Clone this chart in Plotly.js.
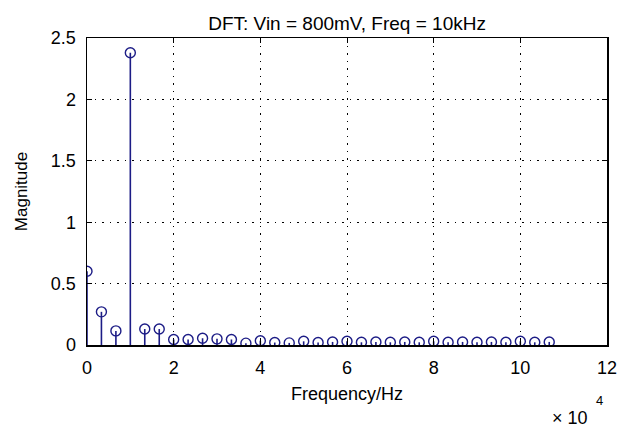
<!DOCTYPE html>
<html>
<head>
<meta charset="utf-8">
<script src="https://cdn.plot.ly/plotly-3.0.1.min.js"></script>
<style>html,body{margin:0;padding:0;background:#fff;}#chart{width:631px;height:433px;}</style>
</head>
<body>
<div id="chart"></div>
<script>
// Frequency bins in units of 10^4 Hz
const freq = [0, 0.333, 0.667, 1.0, 1.333, 1.667, 2.0, 2.333, 2.667, 3.0, 3.333,
  3.667, 4.0, 4.333, 4.667, 5.0, 5.333, 5.667, 6.0, 6.333, 6.667, 7.0, 7.333,
  7.667, 8.0, 8.333, 8.667, 9.0, 9.333, 9.667, 10.0, 10.333, 10.667];
const magnitude = [0.60, 0.27, 0.115, 2.38, 0.13, 0.13, 0.045, 0.045, 0.055, 0.05, 0.045,
  0.015, 0.035, 0.02, 0.017, 0.03, 0.02, 0.025, 0.03, 0.022, 0.025, 0.022, 0.025,
  0.022, 0.03, 0.022, 0.025, 0.022, 0.025, 0.022, 0.03, 0.022, 0.025];
const xTicks = [0, 2, 4, 6, 8, 10, 12];
const yTicks = [0, 0.5, 1, 1.5, 2, 2.5];
const yTickText = ['0', '0.5', '1', '1.5', '2', '2.5'];

const stemX = [], stemY = [];
freq.forEach((f, i) => { stemX.push(f, f, null); stemY.push(0, magnitude[i], null); });

const col = '#1c1c86';
const fam = 'Liberation Sans, Arial, sans-serif';

const traces = [
  {x: stemX, y: stemY, mode: 'lines', line: {color: col, width: 1.6}, hoverinfo: 'skip', showlegend: false},
  {x: freq, y: magnitude, mode: 'markers', marker: {symbol: 'circle-open', size: 10, color: col, line: {width: 1.4, color: col}}, showlegend: false}
];

const layout = {
  width: 631, height: 433,
  margin: {l: 87, r: 24, t: 38, b: 88},
  paper_bgcolor: '#fff', plot_bgcolor: '#fff',
  font: {family: fam, size: 18, color: '#000'},
  title: {text: 'DFT: Vin = 800mV, Freq = 10kHz', font: {size: 19, color: '#000', family: fam}, x: 0.55, xanchor: 'center', y: 0.946, yanchor: 'middle'},
  xaxis: {
    range: [0, 12], tickvals: xTicks, ticktext: xTicks.map(String),
    showgrid: true, gridcolor: '#000', gridwidth: 1, griddash: '1.5px,6px',
    showline: true, linecolor: '#000', linewidth: 1.5, mirror: 'ticks',
    ticks: 'inside', ticklen: 5, tickcolor: '#000', zeroline: false,
    tickfont: {size: 18}, ticklabelstandoff: 6,
    title: {text: 'Frequency/Hz', font: {size: 18}, standoff: 10}
  },
  yaxis: {
    range: [0, 2.5], tickvals: yTicks, ticktext: yTickText,
    showgrid: true, gridcolor: '#000', gridwidth: 1, griddash: '1.5px,6px',
    showline: true, linecolor: '#000', linewidth: 1.5, mirror: 'ticks',
    ticks: 'inside', ticklen: 5, tickcolor: '#000', zeroline: false,
    tickfont: {size: 18}, ticklabelstandoff: 6,
    title: {text: 'Magnitude', font: {size: 17}, standoff: 19}
  },
  annotations: [
    {text: '× 10', xref: 'paper', yref: 'paper', x: 0.929, y: -0.238, showarrow: false, xanchor: 'center', yanchor: 'middle', font: {size: 18}},
    {text: '4', xref: 'paper', yref: 'paper', x: 0.985, y: -0.18, showarrow: false, xanchor: 'center', yanchor: 'middle', font: {size: 13}}
  ]
};

Plotly.newPlot('chart', traces, layout, {staticPlot: true, displayModeBar: false});
</script>
</body>
</html>
